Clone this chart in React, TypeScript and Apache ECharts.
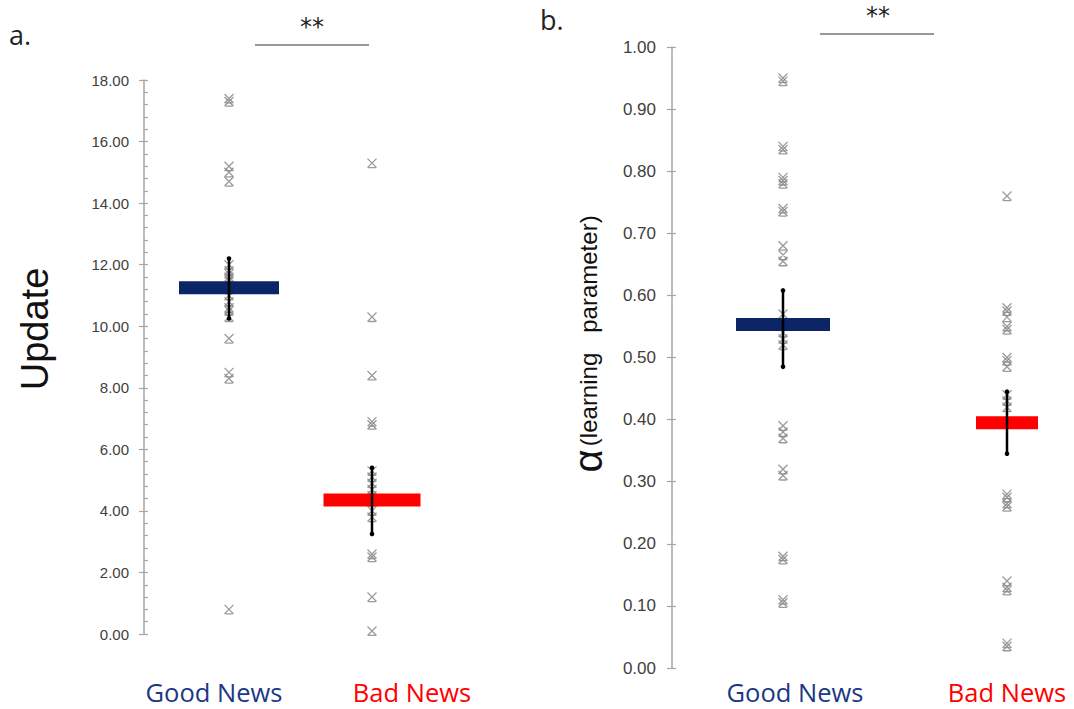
import React, { useEffect, useRef } from "react";
import * as echarts from "echarts";

const categories = ["Good News", "Bad News"];

// Panel a: Update
const goodUpdate = [17.4, 17.3, 15.2, 15.0, 14.7, 12.0, 11.8, 11.7, 11.6, 11.5, 11.2, 11.0, 10.8, 10.6, 10.5, 10.3, 9.6, 8.5, 8.3, 0.8];
const badUpdate = [15.3, 10.3, 8.4, 6.9, 6.8, 5.3, 5.1, 4.9, 4.7, 4.5, 4.3, 4.0, 3.8, 2.6, 2.5, 1.2, 0.1];
const updateMean = [11.25, 4.35];
const updateLow = [10.25, 3.25];
const updateHigh = [12.2, 5.4];
const updateTicks = { min: 0, max: 18, interval: 2 };

// Panel b: alpha (learning parameter)
const goodAlpha = [0.95, 0.945, 0.84, 0.835, 0.79, 0.785, 0.78, 0.74, 0.735, 0.68, 0.665, 0.655, 0.57, 0.54, 0.53, 0.52, 0.39, 0.38, 0.37, 0.32, 0.31, 0.18, 0.175, 0.11, 0.105];
const badAlpha = [0.76, 0.58, 0.575, 0.565, 0.55, 0.545, 0.5, 0.495, 0.485, 0.44, 0.43, 0.42, 0.28, 0.275, 0.265, 0.26, 0.14, 0.13, 0.125, 0.04, 0.035];
const alphaMean = [0.553, 0.395];
const alphaLow = [0.485, 0.345];
const alphaHigh = [0.608, 0.445];
const alphaTicks = { min: 0, max: 1, interval: 0.1 };

const NAVY = "#0b2567";
const RED = "#ff0000";
const LABEL_COLORS = ["#1c3885", "#ff0000"];
const MARK = "path://M0,0L10,10M10,0L0,10M1,10L9,10";

export default function App() {
  const ref = useRef<HTMLDivElement>(null);
  useEffect(() => {
    const chart = echarts.init(ref.current!, null, { renderer: "svg" });

    const pts = (vals: number[], idx: number) => vals.map((v) => [idx, v]);
    const markerSeries = (g: number, vals: number[], idx: number) => ({
      type: "scatter",
      xAxisIndex: g,
      yAxisIndex: g * 2,
      clip: false,
      symbol: MARK,
      symbolSize: [9, 9],
      z: 2,
      itemStyle: { color: "rgba(0,0,0,0)", borderColor: "#8a8a8a", borderWidth: 1.3, opacity: 0.85 },
      data: pts(vals, idx),
    });
    const meanSeries = (g: number, means: number[], widths: number[]) => ({
      type: "scatter",
      xAxisIndex: g,
      yAxisIndex: g * 2,
      clip: false,
      symbol: "rect",
      z: 3,
      data: means.map((m, i) => ({
        value: [i, m],
        symbolSize: [widths[i], 13],
        itemStyle: { color: i === 0 ? NAVY : RED, opacity: 1 },
      })),
    });
    const errSeries = (g: number, low: number[], high: number[]) => ({
      type: "custom",
      xAxisIndex: g,
      yAxisIndex: g * 2,
      clip: false,
      z: 4,
      data: low.map((l, i) => [i, l, high[i]]),
      renderItem: (params: any, api: any) => {
        const a = api.coord([api.value(0), api.value(1)]);
        const b = api.coord([api.value(0), api.value(2)]);
        return {
          type: "group",
          children: [
            { type: "line", shape: { x1: a[0], y1: a[1], x2: b[0], y2: b[1] }, style: { stroke: "#000", lineWidth: 2.5 } },
            { type: "circle", shape: { cx: a[0], cy: a[1], r: 2.3 }, style: { fill: "#000" } },
            { type: "circle", shape: { cx: b[0], cy: b[1], r: 2.3 }, style: { fill: "#000" } },
          ],
        };
      },
    });

    const xAxisBase = (g: number) => ({
      type: "category",
      gridIndex: g,
      data: categories,
      boundaryGap: false,
      axisLine: { show: false },
      axisTick: { show: false },
      splitLine: { show: false },
      axisLabel: { show: false },
    });

    const axisColor = "#a6a6a6";
    const yAxes = (g: number, t: any, offset: number, fontSize: number, margin: number, minor: boolean) => [
      {
        type: "value",
        gridIndex: g,
        position: "left",
        min: t.min,
        max: t.max,
        interval: t.interval,
        offset,
        axisLine: { show: true, lineStyle: { color: axisColor, width: 1.5 } },
        axisTick: { show: true, length: 5, lineStyle: { color: axisColor, width: 1.2 } },
        splitLine: { show: false },
        axisLabel: {
          margin,
          fontSize,
          fontFamily: "Liberation Sans",
          color: "#404040",
          formatter: (v: number) => v.toFixed(2),
        },
      },
      {
        type: "value",
        gridIndex: g,
        position: "left",
        min: t.min,
        max: t.max,
        interval: t.interval,
        offset,
        axisLine: { show: false },
        axisTick: { show: true, inside: true, length: 4, lineStyle: { color: axisColor, width: 1.2 } },
        minorTick: { show: minor, splitNumber: 5, length: 4, lineStyle: { color: axisColor, width: 1.2 } },
        splitLine: { show: false },
        axisLabel: { show: false },
      },
    ];

    const catLabel = (text: string, x: number, color: string) => ({
      type: "text",
      x,
      y: 692,
      style: { text, fontSize: 25.5, fontFamily: "Open Sans", fill: color, align: "center", verticalAlign: "middle" },
    });

    chart.setOption({
      animation: false,
      backgroundColor: "#ffffff",
      grid: [
        { left: 229, width: 143, top: 80, height: 554 },
        { left: 783, width: 224, top: 47, height: 621 },
      ],
      xAxis: [xAxisBase(0), xAxisBase(1)],
      yAxis: [...yAxes(0, updateTicks, 85, 15, 15, true), ...yAxes(1, alphaTicks, 111, 17, 16, false)],
      series: [
        markerSeries(0, goodUpdate, 0),
        markerSeries(0, badUpdate, 1),
        meanSeries(0, updateMean, [100, 97]),
        errSeries(0, updateLow, updateHigh),
        markerSeries(1, goodAlpha, 0),
        markerSeries(1, badAlpha, 1),
        meanSeries(1, alphaMean, [94, 62]),
        errSeries(1, alphaLow, alphaHigh),
      ],
      graphic: [
        catLabel(categories[0], 214, LABEL_COLORS[0]),
        catLabel(categories[1], 412, LABEL_COLORS[1]),
        catLabel(categories[0], 795, LABEL_COLORS[0]),
        catLabel(categories[1], 1007, LABEL_COLORS[1]),
        { type: "text", x: 9, y: 34, style: { text: "a.", fontSize: 27, fontFamily: "Open Sans", fill: "#222", verticalAlign: "middle" } },
        { type: "text", x: 540, y: 19, style: { text: "b.", fontSize: 27, fontFamily: "Open Sans", fill: "#222", verticalAlign: "middle" } },
        { type: "text", x: 312, y: 27, style: { text: "**", fontSize: 24, fontFamily: "DejaVu Sans", fill: "#222", align: "center", verticalAlign: "middle" } },
        { type: "line", shape: { x1: 255, y1: 45, x2: 369, y2: 45 }, style: { stroke: "#333", lineWidth: 1.2 } },
        { type: "text", x: 878, y: 16, style: { text: "**", fontSize: 24, fontFamily: "DejaVu Sans", fill: "#222", align: "center", verticalAlign: "middle" } },
        { type: "line", shape: { x1: 820, y1: 34, x2: 934, y2: 34 }, style: { stroke: "#333", lineWidth: 1.2 } },
        {
          type: "text",
          x: 35,
          y: 329,
          rotation: Math.PI / 2,
          style: { text: "Update", fontSize: 38, fontFamily: "Liberation Sans", fill: "#111", align: "center", verticalAlign: "middle" },
        },
        {
          type: "text",
          x: 588,
          y: 344,
          rotation: Math.PI / 2,
          style: {
            text: "{a|α} {b|(learning   parameter)}",
            align: "center",
            verticalAlign: "middle",
            rich: {
              a: { fontSize: 40, fontFamily: "Liberation Sans", fill: "#111" },
              b: { fontSize: 24, fontFamily: "Liberation Sans", fill: "#111" },
            },
          },
        },
      ],
    });
    return () => chart.dispose();
  }, []);
  return <div ref={ref} style={{ position: "fixed", left: 0, top: 0, width: 1074, height: 709 }} />;
}
